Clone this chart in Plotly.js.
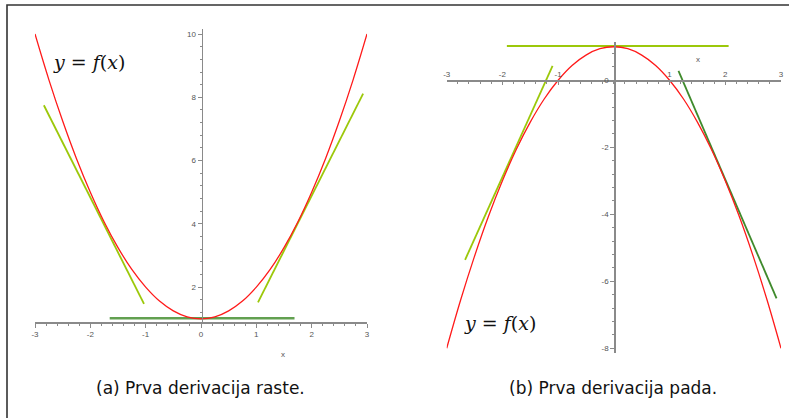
<!DOCTYPE html>
<html>
<head>
<meta charset="utf-8">
<script src="https://cdn.plot.ly/plotly-3.0.1.min.js"></script>
<style>html,body{margin:0;padding:0;background:#fff;}#chart{width:789px;height:418px;}</style>
</head>
<body>
<div id="chart"></div>
<script>
// ---- data ----
const curveX = [-3,-2.75,-2.5,-2.25,-2,-1.75,-1.5,-1.25,-1,-0.75,-0.5,-0.25,0,0.25,0.5,0.75,1,1.25,1.5,1.75,2,2.25,2.5,2.75,3];
// panel (a): f(x)
const curveAY = [10,8.56,7.25,6.06,5,4.06,3.25,2.56,2,1.56,1.25,1.06,1,1.06,1.25,1.56,2,2.56,3.25,4.06,5,6.06,7.25,8.56,10];
// panel (b): f(x)
const curveBY = [-8,-6.56,-5.25,-4.06,-3,-2.06,-1.25,-0.56,0,0.44,0.75,0.94,1,0.94,0.75,0.44,0,-0.56,-1.25,-2.06,-3,-4.06,-5.25,-6.56,-8];

// tangent segments (endpoints)
const tanA1X = [-2.84,-1.03], tanA1Y = [7.75,1.47];
const tanA2X = [-1.65,1.69],  tanA2Y = [1.02,1.02];
const tanA3X = [1.03,2.93],   tanA3Y = [1.52,8.12];
const tanB1X = [-1.92,2.06],  tanB1Y = [1.02,1.02];
const tanB2X = [-2.67,-1.10], tanB2Y = [-5.36,0.43];
const tanB3X = [1.16,2.92],   tanB3Y = [0.28,-6.51];

// ticks
const xTickVals = [-3,-2,-1,0,1,2,3];
const xTickText = ['-3','-2','-1','0','1','2','3'];
const xTickValsB = [-3,-2,-1,1,2,3];
const xTickTextB = ['-3','-2','-1','1','2','3'];
const yTickValsA = [2,4,6,8,10];
const yTickTextA = ['2','4','6','8','10'];
const yTickValsB = [-8,-6,-4,-2,0];
const yTickTextB = ['-8','-6','-4','-2','0'];

const captionA = '(a) Prva derivacija raste.';
const captionB = '(b) Prva derivacija pada.';
const mathLabel = '<i>y</i> = <i>f</i>(<i>x</i>)';

// ---- styles ----
const RED = '#ff1a1a', LIGHT = '#9cc80a', DARKA = '#62a050', DARKB = '#3f8a2c';
const W = 789, H = 418;
const px = v => v / W, py = v => 1 - v / H;

function seg(x, y, color, xa, ya, w) {
  return {x: x, y: y, xaxis: xa, yaxis: ya, mode: 'lines', type: 'scatter',
          line: {color: color, width: w || 1.8}, hoverinfo: 'skip', showlegend: false};
}

const traces = [
  seg(tanA1X, tanA1Y, LIGHT, 'x', 'y'),
  seg(tanA2X, tanA2Y, DARKA, 'x', 'y', 2.4),
  seg(tanA3X, tanA3Y, LIGHT, 'x', 'y'),
  {x: curveX, y: curveAY, xaxis: 'x', yaxis: 'y', mode: 'lines', type: 'scatter',
   line: {color: RED, width: 1.3, shape: 'spline'}, hoverinfo: 'skip', showlegend: false},
  seg(tanB1X, tanB1Y, LIGHT, 'x2', 'y2', 2),
  seg(tanB2X, tanB2Y, LIGHT, 'x2', 'y2'),
  seg(tanB3X, tanB3Y, DARKB, 'x2', 'y2'),
  {x: curveX, y: curveBY, xaxis: 'x2', yaxis: 'y2', mode: 'lines', type: 'scatter',
   line: {color: RED, width: 1.3, shape: 'spline'}, hoverinfo: 'skip', showlegend: false}
];

const AX = '#8a8a8a';
const tickFont = {family: 'Liberation Sans, Arial, sans-serif', size: 8, color: '#555'};
function axisBase(extra) {
  return Object.assign({
    showgrid: false, zeroline: false, showline: true, linecolor: AX, linewidth: 1.5,
    ticks: 'outside', ticklen: 4, tickcolor: AX, tickwidth: 1, tickfont: tickFont,
    tickmode: 'array', fixedrange: true
  }, extra);
}

function ann(x, y, text, font) {
  return {xref: 'paper', yref: 'paper', x: px(x), y: py(y), text: text, showarrow: false,
          xanchor: 'center', yanchor: 'middle', font: font};
}
const mathFont = {family: 'DejaVu Serif, Liberation Serif, serif', size: 19, color: '#111'};
const smallFont = {family: 'Liberation Sans, Arial, sans-serif', size: 8, color: '#555'};
const capFont = {family: 'DejaVu Sans, sans-serif', size: 17, color: '#111'};

const layout = {
  width: W, height: H, autosize: false,
  margin: {l: 0, r: 0, t: 0, b: 0, pad: 0},
  paper_bgcolor: '#fff', plot_bgcolor: 'rgba(0,0,0,0)',
  showlegend: false,
  xaxis: axisBase({domain: [px(35), px(367)], range: [-3, 3], anchor: 'y',
    tickvals: xTickVals, ticktext: xTickText,
    minor: {ticks: 'outside', ticklen: 2, dtick: 0.2, tickcolor: AX}}),
  yaxis: axisBase({domain: [py(322), py(29.3)], range: [0.9, 10.15], anchor: 'free',
    position: px(201.5), tickvals: yTickValsA, ticktext: yTickTextA,
    minor: {ticks: 'outside', ticklen: 2, dtick: 0.4, tick0: 0, tickcolor: AX}}),
  xaxis2: axisBase({domain: [px(446.7), px(781)], range: [-3, 3], anchor: 'free',
    position: py(80.3), side: 'top', ticks: 'inside', ticklen: 3,
    tickvals: xTickValsB, ticktext: xTickTextB,
    minor: {ticks: 'inside', ticklen: 2, dtick: 0.2, tickcolor: AX}}),
  yaxis2: axisBase({domain: [py(353.3), py(41.7)], range: [-8.15, 1.15], anchor: 'free',
    position: px(614.3), tickvals: yTickValsB, ticktext: yTickTextB,
    minor: {ticks: 'outside', ticklen: 2, dtick: 0.4, tick0: 0, tickcolor: AX}}),
  shapes: [
    {type: 'rect', xref: 'paper', yref: 'paper', x0: px(7), x1: 1.05, y0: -0.05, y1: py(5),
     line: {color: '#333', width: 1.6}, fillcolor: 'rgba(0,0,0,0)', layer: 'above'}
  ],
  annotations: [
    ann(89, 62, mathLabel, mathFont),
    ann(500, 323, mathLabel, mathFont),
    ann(283, 354, 'x', smallFont),
    ann(698, 59, 'x', smallFont),
    ann(200, 388, captionA, capFont),
    ann(613, 388, captionB, capFont)
  ]
};

Plotly.newPlot('chart', traces, layout, {staticPlot: true, displayModeBar: false});
</script>
</body>
</html>
